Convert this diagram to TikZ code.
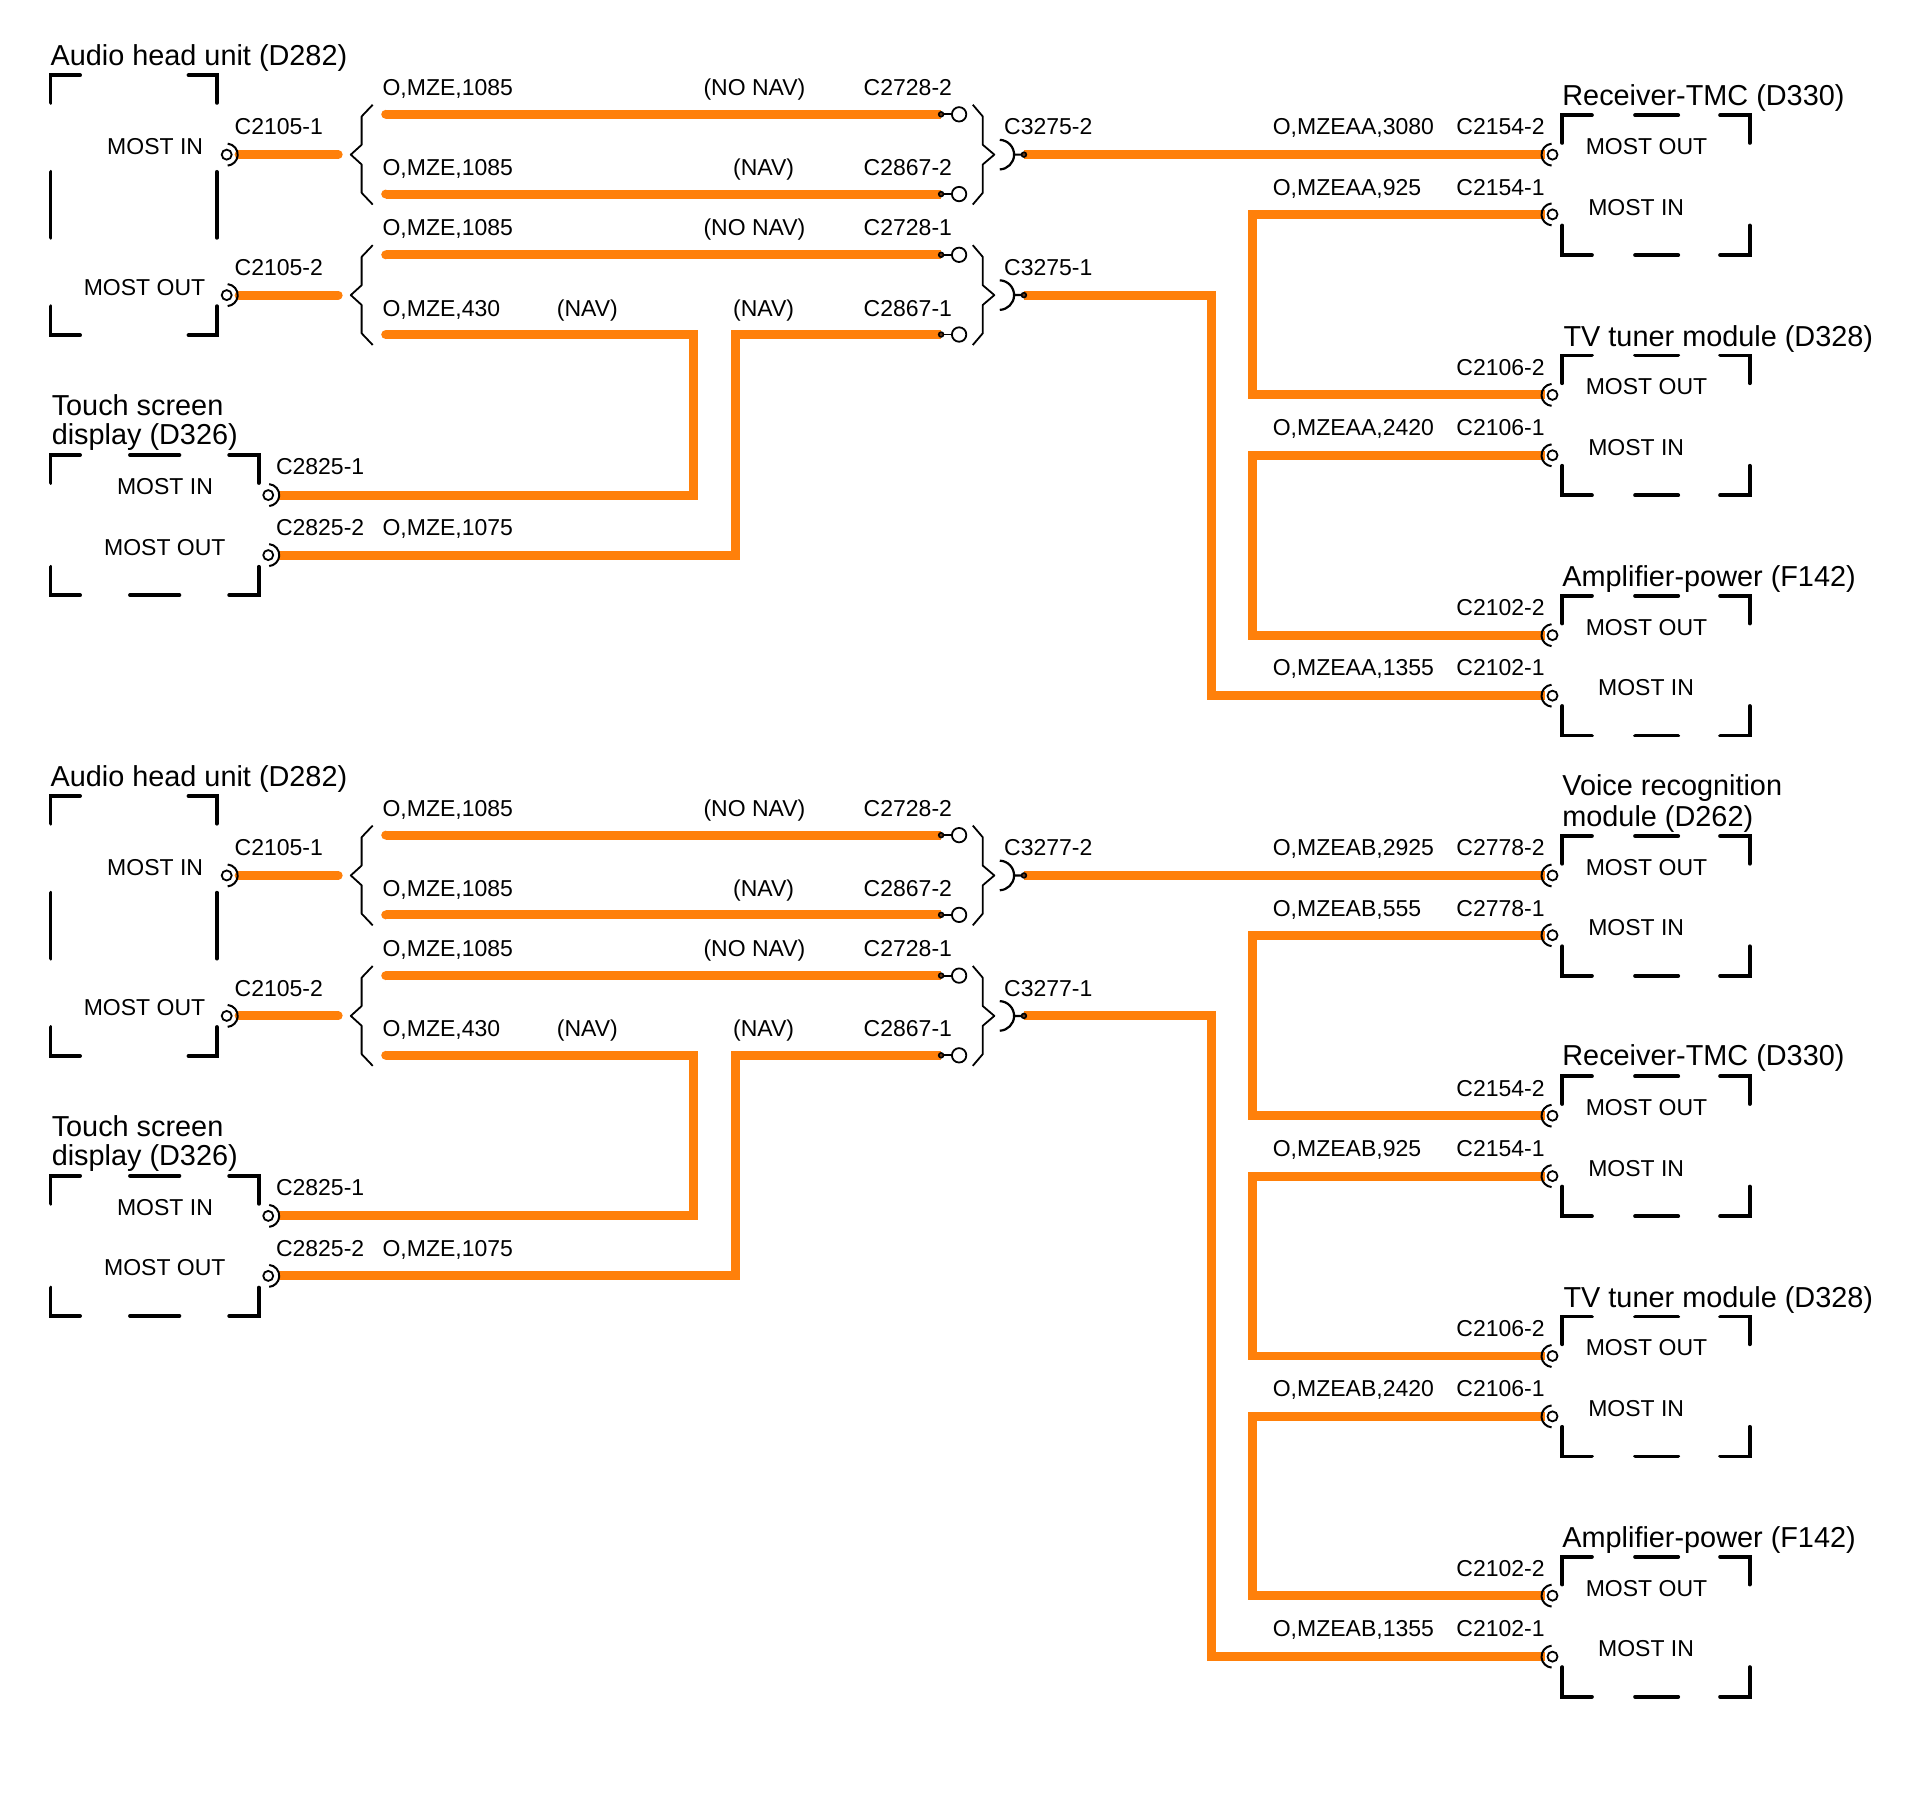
\documentclass[tikz,border=0pt]{standalone}
\usepackage{fontspec}
\setmainfont{Liberation Sans}
\usetikzlibrary{calc}
\definecolor{wirec}{HTML}{FF800A}
\definecolor{dotc}{HTML}{6A3A18}
\pgfdeclarelayer{bgl}
\pgfdeclarelayer{wires}
\pgfsetlayers{bgl,wires,main}
\tikzset{
  wire/.style={draw=wirec,line width=8.9pt,line cap=round,line join=miter},
  boxl/.style={draw=black,line width=3.8pt,line cap=round,line join=miter},
  thin1/.style={draw=black,line width=1.8pt,line join=round},
  lbl/.style={anchor=base west,inner sep=0pt,outer sep=0pt,font=\fontsize{23}{27}\selectfont},
  ttl/.style={anchor=base west,inner sep=0pt,outer sep=0pt,font=\fontsize{28.85}{30}\selectfont}
}
\newcounter{lb}
\newcommand{\lab}[3]{\stepcounter{lb}\node[lbl] (l\thelb) at (#1,#2+6.5) {#3};}
\newcommand{\ttlab}[3]{\stepcounter{lb}\node[ttl] (l\thelb) at (#1,#2+8) {#3};}
% socket facing right (left side devices): name, x, y
\newcommand{\lsock}[3]{\coordinate (#1) at (#2,#3);
  \draw[black,line width=1.8pt] (#1) circle[radius=5pt];
  \draw[black,line width=2pt] (#1) ++(85:11pt) arc[start angle=85,end angle=-85,radius=11pt];}
% socket facing left (right side devices)
\newcommand{\rsock}[2]{\coordinate (#1) at (1260,#2);
  \draw[black,line width=1.8pt] (#1) circle[radius=5pt];
  \draw[black,line width=2pt] (#1) ++(95:11pt) arc[start angle=95,end angle=265,radius=11pt];}
% terminal at wire end: small dot, stub, big circle
\newcommand{\term}[2]{\coordinate (#1) at (763.8,#2);
  \draw[black,line width=1.8pt] (766,#2) -- (772.5,#2);
  \draw[black,line width=1.8pt,fill=white] (778.4,#2) circle[radius=7.2pt];
  \draw[black,line width=1.6pt,fill=dotc] (#1) circle[radius=2.4pt];}
\newcommand{\lbr}[1]{\draw[thin1] (302.5,#1-40.5) -- (293.5,#1-31) -- (293.5,#1-8) -- (284.7,#1) -- (293.5,#1+8) -- (293.5,#1+31) -- (302.5,#1+40.5);}
\newcommand{\rbr}[1]{\draw[thin1] (789.5,#1-40.5) -- (797.6,#1-31) -- (797.6,#1-8) -- (807,#1) -- (797.6,#1+8) -- (797.6,#1+31) -- (789.5,#1+40.5);}
% plug: name, y
\newcommand{\plug}[2]{\coordinate (#1) at (831,#2);
  \draw[black,line width=2.2pt] (811,#2) ++(88:14.8pt) arc[start angle=88,end angle=-88,radius=14.8pt] (823,#2) -- (829,#2);
  \draw[black,line width=1.6pt,fill=dotc] (#1) circle[radius=2.4pt];}
% right device box: top y
\newcommand{\rbox}[1]{
  \draw[boxl] (1268,#1+22.5) -- (1268,#1) -- (1292,#1);
  \draw[boxl] (1327,#1) -- (1362,#1);
  \draw[boxl] (1396,#1) -- (1420,#1) -- (1420,#1+22.5);
  \draw[boxl] (1268,#1+89.5) -- (1268,#1+113.5) -- (1292,#1+113.5);
  \draw[boxl] (1327,#1+113.5) -- (1362,#1+113.5);
  \draw[boxl] (1396,#1+113.5) -- (1420,#1+113.5) -- (1420,#1+89.5);}
% left part of a diagram: prefix, y offset, plug label number
\newcommand{\leftpart}[3]{
  \ttlab{41}{45+#2}{Audio head unit (D282)}
  \draw[boxl] (41,83.5+#2) -- (41,61+#2) -- (65,61+#2);
  \draw[boxl] (153,61+#2) -- (176,61+#2) -- (176,83.5+#2);
  \draw[boxl] (41,139.5+#2) -- (41,193+#2);
  \draw[boxl] (176,139.5+#2) -- (176,193+#2);
  \draw[boxl] (41,248.5+#2) -- (41,272+#2) -- (65,272+#2);
  \draw[boxl] (153,272+#2) -- (176,272+#2) -- (176,248.5+#2);
  \lab{87}{119+#2}{MOST IN}
  \lab{68}{233+#2}{MOST OUT}
  \lab{190.5}{103+#2}{C2105-1}
  \lab{190.5}{217+#2}{C2105-2}
  \lsock{#1a}{184}{125.5+#2}
  \lsock{#1b}{184}{239.5+#2}
  \coordinate (#1ae) at (274.5,125.5+#2);
  \coordinate (#1be) at (274.5,239.5+#2);
  \lbr{125.5+#2}
  \lbr{239.5+#2}
  \rbr{125.5+#2}
  \rbr{239.5+#2}
  \lab{310.5}{71+#2}{O,MZE,1085}
  \lab{571}{71+#2}{(NO NAV)}
  \lab{701}{71+#2}{C2728-2}
  \lab{310.5}{136+#2}{O,MZE,1085}
  \lab{595}{136+#2}{(NAV)}
  \lab{701}{136+#2}{C2867-2}
  \lab{310.5}{185+#2}{O,MZE,1085}
  \lab{571}{185+#2}{(NO NAV)}
  \lab{701}{185+#2}{C2728-1}
  \lab{310.5}{250+#2}{O,MZE,430}
  \lab{452}{250+#2}{(NAV)}
  \lab{595}{250+#2}{(NAV)}
  \lab{701}{250+#2}{C2867-1}
  \coordinate (#1w1) at (313,92.8+#2);
  \coordinate (#1w2) at (313,157.5+#2);
  \coordinate (#1w3) at (313,206.8+#2);
  \coordinate (#1w4) at (313,271.5+#2);
  \term{#1t1}{92.8+#2}
  \term{#1t2}{157.5+#2}
  \term{#1t3}{206.8+#2}
  \term{#1t4}{271.5+#2}
  \lab{815}{103+#2}{C#3-2}
  \lab{815}{217+#2}{C#3-1}
  \plug{#1p2}{125.5+#2}
  \plug{#1p1}{239.5+#2}
  \ttlab{42}{329.5+#2}{Touch screen}
  \ttlab{42}{352.5+#2}{display (D326)}
  \draw[boxl] (41,392+#2) -- (41,369.3+#2) -- (65,369.3+#2);
  \draw[boxl] (105.5,369.3+#2) -- (145.6,369.3+#2);
  \draw[boxl] (186,369.3+#2) -- (210,369.3+#2) -- (210,392+#2);
  \draw[boxl] (41,460+#2) -- (41,483+#2) -- (65,483+#2);
  \draw[boxl] (105.5,483+#2) -- (145.6,483+#2);
  \draw[boxl] (186,483+#2) -- (210,483+#2) -- (210,460+#2);
  \lab{95}{395+#2}{MOST IN}
  \lab{84.5}{444+#2}{MOST OUT}
  \lab{224}{379+#2}{C2825-1}
  \lab{224}{428+#2}{C2825-2}
  \lab{310.5}{428+#2}{O,MZE,1075}
  \lsock{#1c}{217.7}{401.8+#2}
  \lsock{#1d}{217.7}{450.5+#2}
  \begin{pgfonlayer}{wires}
    \draw[wire] ($(#1a)+(10,0)$) -- (#1ae);
    \draw[wire] ($(#1b)+(10,0)$) -- (#1be);
    \draw[wire,line cap=butt] (#1w1) -- (#1t1);
    \draw[wire,line cap=butt] (#1w2) -- (#1t2);
    \draw[wire,line cap=butt] (#1w3) -- (#1t3);
    \draw[wire,line cap=butt] (#1w4) -- (563,271.5+#2) |- ($(#1c)+(8,0)$);
    \draw[wire,line cap=butt] (#1t4) -- (597,271.5+#2) |- ($(#1d)+(8,0)$);
    \fill[wirec] (#1w1) circle[radius=4.45pt] (#1w2) circle[radius=4.45pt] (#1w3) circle[radius=4.45pt] (#1w4) circle[radius=4.45pt];
  \end{pgfonlayer}
}
\newcommand{\wirepair}[2]{\draw[wire,line cap=butt] ($(#1)+(-6,0)$) -- (XA |- #1) -- (XA |- #2) -- ($(#2)+(-6,0)$);}
\newcommand{\wirelong}[2]{\draw[wire,line cap=butt] (#1) -- (XB |- #1) -- (XB |- #2) -- ($(#2)+(-6,0)$);}
\newcommand{\wirestraight}[2]{\draw[wire,line cap=butt] (#1) -- ($(#2)+(-6,0)$);}
\begin{document}
\begin{tikzpicture}[x=1.232pt,y=-1.232pt]
\useasboundingbox (0,0) rectangle (1568,1454.5);
\begin{pgfonlayer}{bgl}
\fill[white] (0,0) rectangle (1568,1454.5);
\end{pgfonlayer}
\coordinate (XA) at (1016.8,0);
\coordinate (XB) at (983,0);
\leftpart{A}{0}{3275}
\leftpart{B}{585}{3277}

% ---- upper right
\ttlab{1268}{78}{Receiver-TMC (D330)}
\rbox{93.5}
\lab{1287}{119}{MOST OUT}
\lab{1289}{168}{MOST IN}
\ttlab{1269}{273}{TV tuner module (D328)}
\rbox{288.5}
\lab{1287}{314}{MOST OUT}
\lab{1289}{363}{MOST IN}
\ttlab{1268}{468}{Amplifier-power (F142)}
\rbox{483.5}
\lab{1287}{509}{MOST OUT}
\lab{1297}{558}{MOST IN}
\lab{1033}{103}{O,MZEAA,3080}
\lab{1182}{103}{C2154-2}
\lab{1033}{152}{O,MZEAA,925}
\lab{1182}{152}{C2154-1}
\lab{1182}{298}{C2106-2}
\lab{1033}{347}{O,MZEAA,2420}
\lab{1182}{347}{C2106-1}
\lab{1182}{493}{C2102-2}
\lab{1033}{542}{O,MZEAA,1355}
\lab{1182}{542}{C2102-1}
\rsock{R1}{125.5}
\rsock{R2}{174}
\rsock{R3}{320.5}
\rsock{R4}{369.5}
\rsock{R5}{515.5}
\rsock{R6}{564.6}
\begin{pgfonlayer}{wires}
  \wirestraight{Ap2}{R1}
  \wirepair{R2}{R3}
  \wirepair{R4}{R5}
  \wirelong{Ap1}{R6}
\end{pgfonlayer}

% ---- lower right
\ttlab{1268}{638}{Voice recognition}
\ttlab{1268}{663}{module (D262)}
\rbox{678.5}
\lab{1287}{704}{MOST OUT}
\lab{1289}{753}{MOST IN}
\ttlab{1268}{857}{Receiver-TMC (D330)}
\rbox{873.5}
\lab{1287}{899}{MOST OUT}
\lab{1289}{948}{MOST IN}
\ttlab{1269}{1053}{TV tuner module (D328)}
\rbox{1068.5}
\lab{1287}{1094}{MOST OUT}
\lab{1289}{1143}{MOST IN}
\ttlab{1268}{1248}{Amplifier-power (F142)}
\rbox{1263.5}
\lab{1287}{1289}{MOST OUT}
\lab{1297}{1338}{MOST IN}
\lab{1033}{688}{O,MZEAB,2925}
\lab{1182}{688}{C2778-2}
\lab{1033}{737}{O,MZEAB,555}
\lab{1182}{737}{C2778-1}
\lab{1182}{883}{C2154-2}
\lab{1033}{932}{O,MZEAB,925}
\lab{1182}{932}{C2154-1}
\lab{1182}{1078}{C2106-2}
\lab{1033}{1127}{O,MZEAB,2420}
\lab{1182}{1127}{C2106-1}
\lab{1182}{1273}{C2102-2}
\lab{1033}{1322}{O,MZEAB,1355}
\lab{1182}{1322}{C2102-1}
\rsock{S1}{710.5}
\rsock{S2}{759}
\rsock{S3}{905.5}
\rsock{S4}{954.5}
\rsock{S5}{1100.5}
\rsock{S6}{1149.5}
\rsock{S7}{1295}
\rsock{S8}{1344.5}
\begin{pgfonlayer}{wires}
  \wirestraight{Bp2}{S1}
  \wirepair{S2}{S3}
  \wirepair{S4}{S5}
  \wirepair{S6}{S7}
  \wirelong{Bp1}{S8}
\end{pgfonlayer}
\end{tikzpicture}
\end{document}
